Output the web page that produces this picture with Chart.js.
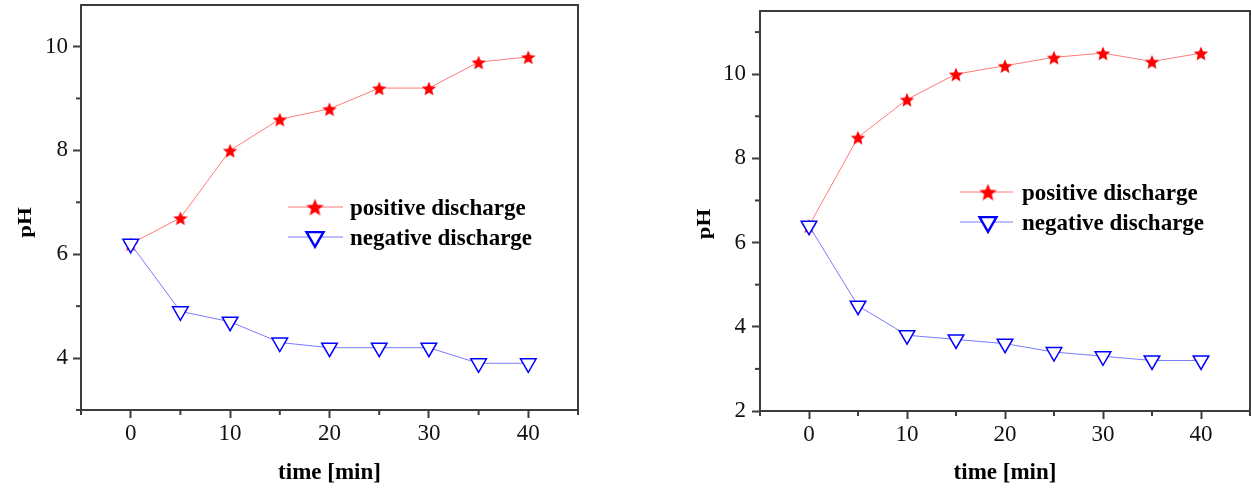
<!DOCTYPE html>
<html><head><meta charset="utf-8">
<script src="https://cdn.jsdelivr.net/npm/chart.js@4.4.1/dist/chart.umd.min.js"></script>
<style>
html,body{margin:0;padding:0;background:#fff;overflow:hidden;}
#wrap{position:relative;width:1251px;height:488px;}
canvas{position:absolute;top:0;}
</style></head><body>
<div id="wrap">
<canvas id="c1" width="625" height="488" style="left:0"></canvas>
<canvas id="c2" width="626" height="488" style="left:625px"></canvas>
</div>
<script>
// ---- data ----
const times = [0, 5, 10, 15, 20, 25, 30, 35, 40];
const leftPositive  = [6.2, 6.7, 8.0, 8.6, 8.8, 9.2, 9.2, 9.7, 9.8];
const leftNegative  = [6.2, 4.9, 4.7, 4.3, 4.2, 4.2, 4.2, 3.9, 3.9];
const rightPositive = [6.4, 8.5, 9.4, 10.0, 10.2, 10.4, 10.5, 10.3, 10.5];
const rightNegative = [6.4, 4.5, 3.8, 3.7, 3.6, 3.4, 3.3, 3.2, 3.2];
const seriesLabels = ['positive discharge', 'negative discharge'];
const xTitle = 'time [min]';
const yTitle = 'pH';
const xTickLabels = [0, 10, 20, 30, 40];
const leftYTickLabels = [4, 6, 8, 10];
const rightYTickLabels = [2, 4, 6, 8, 10];

const FAMILY = "'Liberation Serif', 'Times New Roman', serif";
const AXIS = '#3c3c3c';
Chart.defaults.font.family = FAMILY;

function makeStar(R, r, color) {
  const s = Math.ceil(R * 2) + 2;
  const c = document.createElement('canvas');
  c.width = s; c.height = s;
  const g = c.getContext('2d');
  g.fillStyle = color;
  g.beginPath();
  for (let i = 0; i < 10; i++) {
    const a = -Math.PI / 2 + i * Math.PI / 5;
    const rr = i % 2 ? r : R;
    g.lineTo(s / 2 + rr * Math.cos(a), s / 2 + 1 + rr * Math.sin(a));
  }
  g.closePath(); g.fill();
  return c;
}
const starSmall = makeStar(7.6, 3.4, '#ff0000');
const starLarge = makeStar(9.2, 4.0, '#ff0000');

function drawDownTriangle(ctx, cx, cy, r, stroke, lw) {
  const s = Math.sin(Math.PI / 3) * r;
  ctx.beginPath();
  ctx.moveTo(cx - s, cy - r / 2);
  ctx.lineTo(cx + s, cy - r / 2);
  ctx.lineTo(cx, cy + r);
  ctx.closePath();
  ctx.fillStyle = '#ffffff';
  ctx.fill();
  ctx.strokeStyle = stroke;
  ctx.lineWidth = lw;
  ctx.stroke();
}

const framePlugin = {
  id: 'frame',
  afterDraw(chart) {
    const ctx = chart.ctx, ca = chart.chartArea;
    const xs = chart.scales.x, ys = chart.scales.y;
    ctx.save();
    ctx.strokeStyle = AXIS;
    ctx.lineWidth = 2;
    ctx.strokeRect(ca.left, ca.top, ca.right - ca.left, ca.bottom - ca.top);
    // minor ticks
    xs.ticks.forEach(t => {
      if (t.value % 10 !== 0) {
        const p = xs.getPixelForValue(t.value);
        ctx.beginPath(); ctx.moveTo(p, ca.bottom); ctx.lineTo(p, ca.bottom + 5); ctx.stroke();
      }
    });
    ys.ticks.forEach(t => {
      if (t.value % 2 !== 0) {
        const p = ys.getPixelForValue(t.value);
        ctx.beginPath(); ctx.moveTo(ca.left, p); ctx.lineTo(ca.left - 5, p); ctx.stroke();
      }
    });
    ctx.restore();
  }
};

const yTitlePlugin = {
  id: 'yTitle',
  afterDraw(chart, args, opts) {
    const ctx = chart.ctx, ca = chart.chartArea;
    ctx.save();
    ctx.translate(ca.left - opts.dx, (ca.top + ca.bottom) / 2 + opts.dy);
    ctx.rotate(-Math.PI / 2);
    ctx.scale(1, 0.78);
    ctx.font = 'bold 23px ' + FAMILY;
    ctx.fillStyle = '#000';
    ctx.textAlign = 'center';
    ctx.textBaseline = 'middle';
    ctx.fillText(opts.text, 0, 0);
    ctx.restore();
  }
};

const legendPlugin = {
  id: 'pdLegend',
  afterDraw(chart, args, opts) {
    const ctx = chart.ctx;
    ctx.save();
    chart.data.datasets.forEach((ds, i) => {
      const row = opts.rows[i];
      ctx.strokeStyle = ds.borderColor;
      ctx.lineWidth = 1;
      ctx.beginPath();
      ctx.moveTo(opts.lineX0, row.my); ctx.lineTo(opts.lineX1, row.my);
      ctx.stroke();
      if (i === 0) {
        ctx.drawImage(starLarge, opts.markX - starLarge.width / 2, row.my - starLarge.height / 2);
      } else {
        drawDownTriangle(ctx, opts.markX, row.my, 9.8, ds.pointBorderColor, 2.4);
      }
      ctx.font = 'bold 23px ' + FAMILY;
      ctx.fillStyle = '#000';
      ctx.textAlign = 'left';
      ctx.textBaseline = 'alphabetic';
      ctx.fillText(ds.label, opts.textX, row.base);
    });
    ctx.restore();
  }
};

function buildChart(id, pos, neg, yMin, yMax, yLabels, L) {
  const toPts = arr => times.map((t, i) => ({ x: t, y: arr[i] }));
  return new Chart(document.getElementById(id), {
    type: 'line',
    data: {
      datasets: [
        {
          label: seriesLabels[0], data: toPts(pos), order: 1,
          borderColor: '#ff7a7a', borderWidth: 1, tension: 0,
          pointStyle: starSmall, pointRadius: 7, pointHoverRadius: 7
        },
        {
          label: seriesLabels[1], data: toPts(neg), order: 0,
          borderColor: '#7a7aff', borderWidth: 1, tension: 0,
          pointStyle: 'triangle', pointRotation: 180, pointRadius: 9, pointHoverRadius: 9,
          pointBackgroundColor: '#ffffff', pointBorderColor: '#0000ff', pointBorderWidth: 1.5
        }
      ]
    },
    options: {
      responsive: false, animation: false, devicePixelRatio: 1,
      layout: { autoPadding: false, padding: { left: L.padLeft, top: L.padTop, right: L.padRight, bottom: 0 } },
      plugins: {
        legend: { display: false }, tooltip: { enabled: false },
        pdLegend: L.legend,
        yTitle: { text: yTitle, dx: L.yTitleDx, dy: L.yTitleDy }
      },
      scales: {
        x: {
          type: 'linear', min: -5, max: 45,
          ticks: {
            stepSize: 5, autoSkip: false, maxRotation: 0, padding: 2,
            color: '#111', font: { size: 23, family: FAMILY },
            callback: v => xTickLabels.includes(v) ? String(v) : ''
          },
          grid: {
            drawOnChartArea: false, drawTicks: true, tickLength: 8, tickWidth: 2,
            tickColor: c => (c.tick && c.tick.value % 10 === 0) ? AXIS : 'rgba(0,0,0,0)'
          },
          border: { display: true, color: AXIS, width: 2 },
          title: {
            display: true, text: xTitle, color: '#000',
            font: { size: 23, weight: 'bold', family: FAMILY },
            padding: { top: 0, bottom: 1 }
          },
          afterFit: s => { s.height = L.xHeight; s.paddingLeft = 0; s.paddingRight = 0; }
        },
        y: {
          type: 'linear', min: yMin, max: yMax,
          ticks: {
            stepSize: 1, includeBounds: false, autoSkip: false, padding: L.yTickPad,
            color: '#111', font: { size: 23, family: FAMILY },
            callback: v => yLabels.includes(v) ? String(v) : ''
          },
          grid: {
            drawOnChartArea: false, drawTicks: true, tickLength: 8, tickWidth: 2,
            tickColor: c => (c.tick && c.tick.value % 2 === 0) ? AXIS : 'rgba(0,0,0,0)'
          },
          border: { display: true, color: AXIS, width: 2 },
          afterFit: s => { s.width = L.yWidth; s.paddingTop = 0; s.paddingBottom = 0; }
        }
      }
    },
    plugins: [framePlugin, yTitlePlugin, legendPlugin]
  });
}

buildChart('c1', leftPositive, leftNegative, 3, 10.8, leftYTickLabels, {
  padLeft: 0, padTop: 5, padRight: 47, xHeight: 78, yWidth: 81, yTickPad: 5,
  yTitleDx: 55, yTitleDy: 15,
  legend: { lineX0: 288, lineX1: 343, markX: 315, textX: 350,
            rows: [{ my: 207, base: 215 }, { my: 237, base: 244.5 }] }
});
buildChart('c2', rightPositive, rightNegative, 2, 11.5, rightYTickLabels, {
  padLeft: 0, padTop: 11, padRight: 1, xHeight: 77, yWidth: 135, yTickPad: 6,
  yTitleDx: 55, yTitleDy: 13,
  legend: { lineX0: 335, lineX1: 388, markX: 363, textX: 397,
            rows: [{ my: 192, base: 200 }, { my: 222, base: 230 }] }
});
</script>
</body></html>
